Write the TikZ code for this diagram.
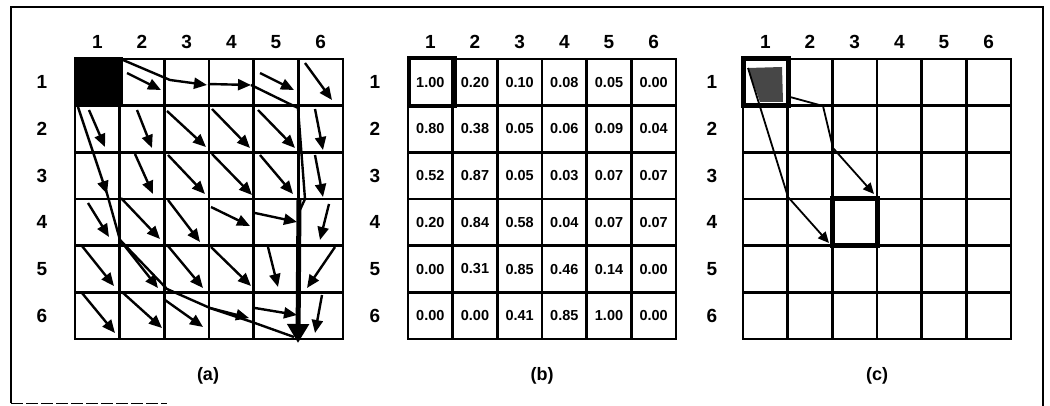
\documentclass[tikz,border=0pt]{standalone}
\usepackage{fontspec}
\setmainfont{Liberation Sans}
\usetikzlibrary{arrows.meta}
\begin{document}
\begin{tikzpicture}[x=1pt,y=-1pt,
  lbl/.style={font=\fontsize{19}{19}\selectfont\bfseries, inner sep=0pt},
  val/.style={font=\fontsize{14.5}{15}\selectfont\bfseries, inner sep=0pt},
  captext/.style={font=\fontsize{18}{18}\selectfont\bfseries, inner sep=0pt},
  gridline/.style={line width=2.5pt, line cap=rect},
  arr/.style={line width=2.4pt, -{Triangle[length=13pt,width=11pt]}},
  seg/.style={line width=2.4pt},
  bigarr/.style={line width=5pt, -{Triangle[length=19pt,width=21pt]}},
  carr/.style={line width=1.8pt, -{Triangle[length=11pt,width=10pt]}},
  frame/.style={line width=2pt}
]
\useasboundingbox (0,0) rectangle (1050,406);
% frame
\draw[frame] (11,403) -- (11,7) -- (1043,7) -- (1043,406);
\draw[line width=1pt, dash pattern=on 12pt off 3pt] (11,403) -- (167,403);
% black cell (a)
\fill (74,57) rectangle (123,107);
% grids
\foreach \L/\n/\off in {75/a/33,408/b/33,743/c/31} {
  \foreach \i in {0,...,6} {
    \draw[gridline] ({\L+\i*44.67},59) -- ({\L+\i*44.67},339);
    \draw[gridline] (\L,{59+\i*46.67}) -- ({\L+268},{59+\i*46.67});
  }
  \foreach \i in {1,...,6} {
    \node[lbl] (\n-col\i) at ({\L+(\i-0.5)*44.67},42) {\i};
    \node[lbl] (\n-row\i) at ({\L-\off},{59+(\i-0.5)*46.67}) {\i};
  }
}
% captions
\node[captext] (capa) at (208,376) {(a)};
\node[captext] (capb) at (542,376) {(b)};
\node[captext] (capc) at (877,376) {(c)};
% values (b)
\foreach \r/\vals in {1/{1.00,0.20,0.10,0.08,0.05,0.00},
                      2/{0.80,0.38,0.05,0.06,0.09,0.04},
                      3/{0.52,0.87,0.05,0.03,0.07,0.07},
                      4/{0.20,0.84,0.58,0.04,0.07,0.07},
                      5/{0.00,0.31,0.85,0.46,0.14,0.00},
                      6/{0.00,0.00,0.41,0.85,1.00,0.00}} {
  \foreach \v [count=\c] in \vals {
    \node[val] (v\r-\c) at ({408+(\c-0.5)*44.67},{59+(\r-0.5)*46.67}) {\v};
  }
}
\draw[line width=4.5pt] (409,58) rectangle (455,106);
% (c) boxes
\fill[black!72] (748,68) -- (782,67) -- (783,102) -- (760,102) -- cycle;
\draw[line width=5pt] (743,59) rectangle (788,106);
\draw[line width=5pt] (832,199) rectangle (877,246);
\draw[carr] (748,68) -- (788,197) -- (829,243);
\draw[carr] (790,97) -- (823,106) -- (833,148) -- (874,194);
% (a) short arrows
\foreach \s/\e in {
  {127,73}/{161,90}, {260,73}/{294,90}, {305,63}/{332,100},
  {89,110}/{105,147}, {137,110}/{152,148}, {167,111}/{206,147}, {212,109}/{250,148}, {258,110}/{295,148}, {315,109}/{323,150},
  {135,154}/{153,194}, {168,155}/{205,194}, {212,154}/{252,195}, {260,155}/{293,194}, {315,155}/{323,197},
  {88,203}/{109,237}, {121,198}/{160,239}, {168,200}/{200,242}, {211,207}/{250,226}, {255,213}/{297,222}, {329,204}/{320,240},
  {82,246}/{114,286}, {168,246}/{203,288}, {211,247}/{251,286}, {268,247}/{278,287}, {335,247}/{307,288},
  {82,293}/{115,333}, {122,292}/{162,328}, {165,300}/{203,327}, {210,308}/{249,318}, {255,308}/{297,315}, {322,295}/{315,333}} {
  \draw[arr] (\s) -- (\e);
}
% (a) path arrows
\draw[arr] (123,60) -- (170,80) -- (207,85);
\draw[arr] (208,84) -- (251,85);
\draw[seg] (251,85) -- (298,108) -- (305,199) -- (299,212);
\draw[bigarr] (299,200) -- (298,343);
\draw[arr] (78,107) -- (107,194);
\draw[seg] (106,190) -- (120,240);
\draw[arr] (120,240) -- (158,288);
\draw[seg] (120,240) -- (167,289) -- (210,308) -- (252,322) -- (294,337);
\end{tikzpicture}
\end{document}
